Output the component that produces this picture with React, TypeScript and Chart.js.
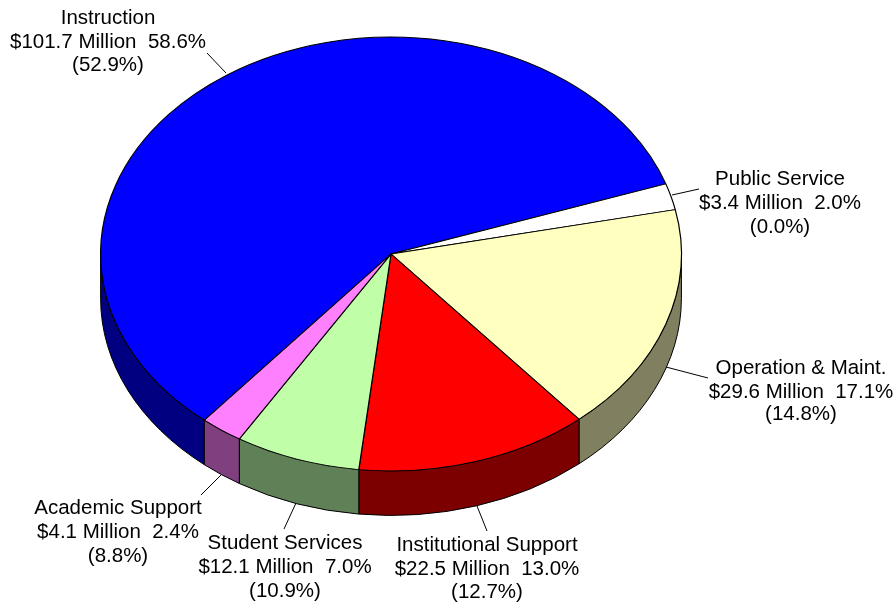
import React, { useEffect, useRef } from "react";
import { Chart, registerables } from "chart.js";

Chart.register(...registerables);

const categories = ["Instruction", "Public Service", "Operation & Maint.", "Institutional Support", "Student Services", "Academic Support"];
const millions = [101.7, 3.4, 29.6, 22.5, 12.1, 4.1];
const shares = ["58.6", "2.0", "17.1", "13.0", "7.0", "2.4"];
const priorShares = ["52.9", "0.0", "14.8", "12.7", "10.9", "8.8"];
const topColors = ["#0000ff", "#ffffff", "#ffffc0", "#ff0000", "#c0ffa8", "#ff80ff"];
const wallColors = ["#000080", "#808080", "#808060", "#7c0000", "#608058", "#804080"];

// Text block centre, line centres, and leader line end points for each slice.
const labelCentreX = [108, 780, 801, 487, 285, 118];
const labelLineY = [[18, 42, 65], [179, 203, 227], [368, 392, 414], [545, 569, 592], [543, 567, 591], [508, 532, 556]];
const leaders = [[207, 53, 226, 73], [672, 195, 699, 189], [666, 367, 708, 378], [477, 506, 487, 531], [296, 503, 284, 529], [221, 475, 201, 495]];

const START_DEGREES = 220;
const CENTRE_Y = 254;
const TILT = 0.747;
const DEPTH = 44.5;
const FONT = '20.5px "Liberation Sans", Arial, sans-serif';

// Tilts the flat pie into an ellipse and paints the rim below it.
const tiltedPie = {
  id: "tiltedPie",
  beforeDatasetsDraw(chart: Chart) {
    const { ctx } = chart;
    const arcs = chart.getDatasetMeta(0).data as any[];
    ctx.save();
    ctx.lineWidth = 1;
    ctx.strokeStyle = "#000000";
    arcs.forEach((arc, i) => {
      const { x, startAngle, endAngle, outerRadius } = arc.getProps(["x", "startAngle", "endAngle", "outerRadius"]);
      const ry = outerRadius * TILT;
      for (let turn = -1; turn <= 1; turn++) {
        const lo = Math.max(startAngle, turn * 2 * Math.PI);
        const hi = Math.min(endAngle, turn * 2 * Math.PI + Math.PI);
        if (hi <= lo) continue;
        ctx.beginPath();
        ctx.ellipse(x, CENTRE_Y, outerRadius, ry, 0, lo, hi);
        ctx.ellipse(x, CENTRE_Y + DEPTH, outerRadius, ry, 0, hi, lo, true);
        ctx.closePath();
        ctx.fillStyle = wallColors[i];
        ctx.fill();
        ctx.stroke();
      }
    });
    ctx.restore();
    ctx.save();
    const centreY = arcs[0].y;
    ctx.translate(0, CENTRE_Y);
    ctx.scale(1, TILT);
    ctx.translate(0, -centreY);
  },
  afterDatasetsDraw(chart: Chart) {
    chart.ctx.restore();
  },
  afterDraw(chart: Chart) {
    const { ctx } = chart;
    ctx.save();
    ctx.strokeStyle = "#000000";
    ctx.lineWidth = 1;
    leaders.forEach(([x1, y1, x2, y2]) => {
      ctx.beginPath();
      ctx.moveTo(x1, y1);
      ctx.lineTo(x2, y2);
      ctx.stroke();
    });
    ctx.fillStyle = "#000000";
    ctx.font = FONT;
    ctx.textAlign = "center";
    ctx.textBaseline = "middle";
    categories.forEach((name, i) => {
      const lines = [name, `$${millions[i]} Million  ${shares[i]}%`, `(${priorShares[i]}%)`];
      lines.forEach((line, j) => ctx.fillText(line, labelCentreX[i], labelLineY[i][j]));
    });
    ctx.restore();
  },
};

export default function App() {
  const canvasRef = useRef<HTMLCanvasElement>(null);

  useEffect(() => {
    const chart = new Chart(canvasRef.current!, {
      type: "pie",
      data: {
        labels: categories,
        datasets: [
          {
            data: millions,
            backgroundColor: topColors,
            borderColor: "#000000",
            borderWidth: 1.2,
            clip: false,
          } as any,
        ],
      },
      options: {
        animation: false,
        responsive: false,
        events: [],
        rotation: START_DEGREES,
        layout: { padding: { left: 100, right: 212, top: 10, bottom: 10 } },
        plugins: { legend: { display: false }, tooltip: { enabled: false } },
      },
      plugins: [tiltedPie],
    });
    return () => chart.destroy();
  }, []);

  return (
    <canvas
      ref={canvasRef}
      width={894}
      height={602}
      style={{ position: "fixed", left: 0, top: 0, display: "block", background: "#ffffff" }}
    />
  );
}
